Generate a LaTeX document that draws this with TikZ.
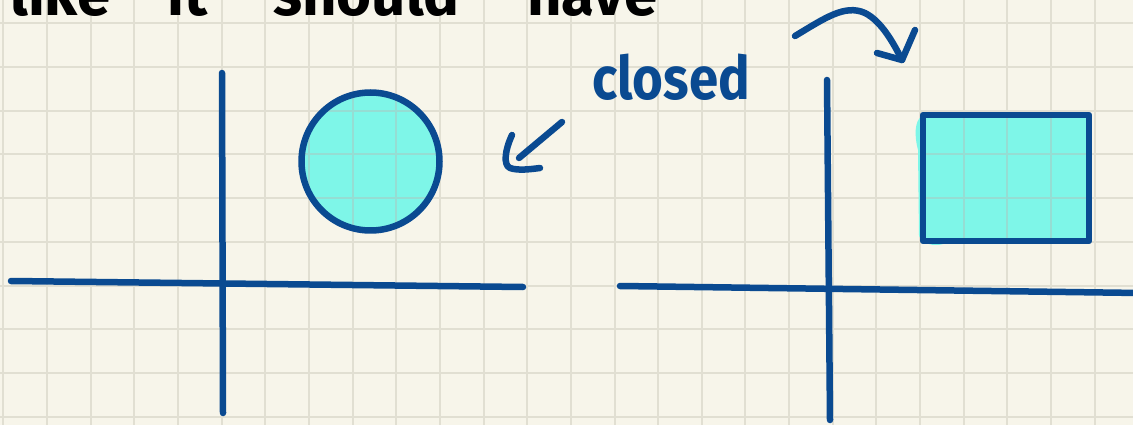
\documentclass[tikz,border=0pt]{standalone}
\usepackage{fontspec}
\setmainfont{Fira Sans}
\definecolor{paper}{HTML}{F7F5EA}
\definecolor{gridc}{HTML}{E1DFD2}
\definecolor{gridin}{HTML}{95DDD3}
\definecolor{ink}{HTML}{0A4A91}
\definecolor{cyanfill}{HTML}{7EF6E8}
\newcommand{\papergrid}[1]{%
  \foreach \i in {0,...,25} \draw[#1, line width=2pt] ({3.4+43.65*\i},0) -- ++(0,425);
  \foreach \j in {0,...,9} \draw[#1, line width=2pt] (0,{23.3+43.7*\j}) -- ++(1133,0);}
\tikzset{
  pen/.style={draw=ink, line width=6.5pt, line cap=round, line join=round},
  hand/.style={inner sep=0pt, anchor=base west, font=\fontsize{60}{60}\selectfont\bfseries}
}
\begin{document}
\begin{tikzpicture}[x=1pt, y=-1pt]
\useasboundingbox (0,0) rectangle (1133,425);
\clip (0,0) rectangle (1133,425);
\fill[paper] (0,0) rectangle (1133,425);
\papergrid{gridc}

% cut-off heading
\node[hand] (w1) at (10,16) {like};
\node[hand] (w2) at (167,16) {it};
\node[hand] (w3) at (273,16) {should};
\node[hand] (w4) at (527,16) {have};

% left axes
\coordinate (lxa) at (11,281);
\coordinate (lxb) at (523,287);
\coordinate (lya) at (222,73);
\coordinate (lyb) at (223,413);
\draw[pen] (lxa) -- (lxb);
\draw[pen] (lya) -- (lyb);

% circle
\coordinate (cc) at (370.5,161.5);
\fill[cyanfill] (cc) circle (69);
\begin{scope}
  \clip (cc) circle (69);
  \papergrid{gridin}
\end{scope}
\draw[pen] (cc) circle (69);

% label and arrow
\node[hand, text=ink] (closed) at (592,100) {\scalebox{0.88}[1]{closed}};
\coordinate (a1) at (562,122);
\coordinate (a2) at (519,158);
\draw[pen] (a1) -- (a2);
\coordinate (h1) at (512,135);
\coordinate (h2) at (540,168);
\draw[pen] (h1) .. controls (505,150) and (503,165) .. (510,168) .. controls (518,171) and (532,169) .. (h2);

% right axes
\coordinate (rxa) at (620,286);
\coordinate (rxb) at (1140,293);
\coordinate (rya) at (827,80);
\coordinate (ryb) at (830,420);
\draw[pen] (rxa) -- (rxb);
\draw[pen] (rya) -- (ryb);

% rectangle
\fill[cyanfill] (921,117) .. controls (915,121) and (914,135) .. (918,150) -- (919,236)
  .. controls (924,247) and (940,246) .. (946,243) -- (925,238) -- cycle;
\fill[cyanfill] (923,115) rectangle (1089,241);
\begin{scope}
  \clip (923,115) rectangle (1089,241);
  \papergrid{gridin}
\end{scope}
\draw[pen] (923,115) rectangle (1089,241);

% curved arrow
\coordinate (c1) at (795,36);
\coordinate (c2) at (902,60);
\draw[pen] (c1) .. controls (825,18) and (845,4) .. (865,13) .. controls (881,21) and (893,42) .. (c2);
\coordinate (ch1) at (877,53);
\coordinate (ch2) at (915,30);
\draw[pen] (ch1) -- (c2) -- (ch2);
\end{tikzpicture}
\end{document}
